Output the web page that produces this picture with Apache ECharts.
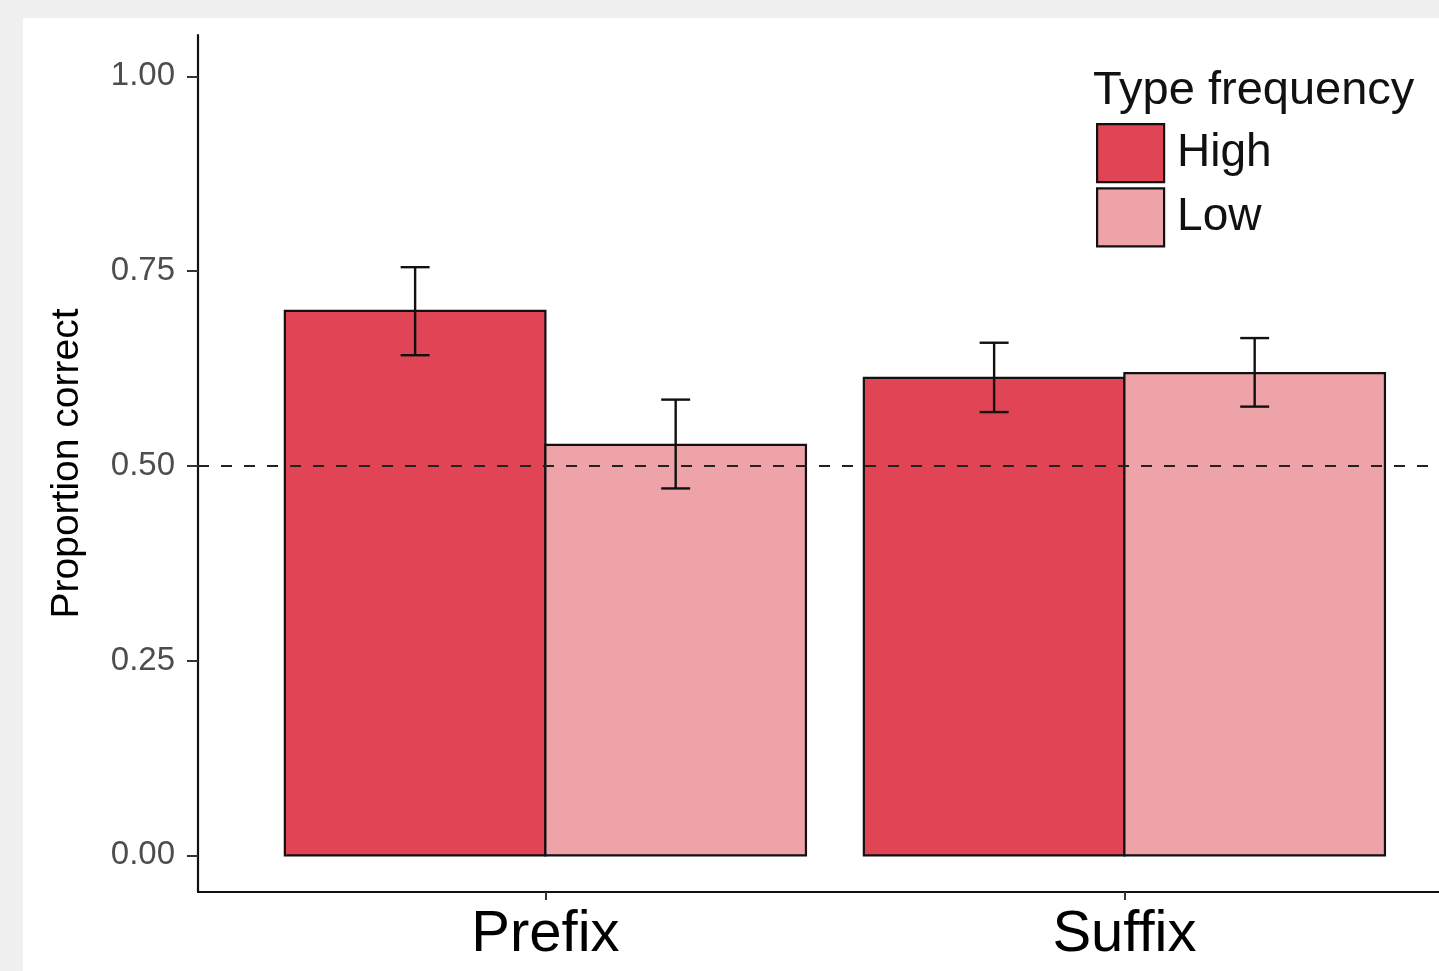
<!DOCTYPE html>
<html>
<head>
<meta charset="utf-8">
<script src="https://cdn.jsdelivr.net/npm/echarts@6/dist/echarts.min.js"></script>
<style>
  html, body { margin: 0; padding: 0; background: #f0f0f0; overflow: hidden; }
  #chart { position: absolute; left: 23px; top: 18px; width: 1416px; height: 953px; background: #ffffff; }
</style>
</head>
<body>
<div id="chart"></div>
<script>
const categories = ['Prefix', 'Suffix'];
const groups = ['High', 'Low'];
const highMean = [0.699, 0.613];
const highLower = [0.642, 0.569];
const highUpper = [0.755, 0.658];
const lowMean = [0.527, 0.619];
const lowLower = [0.471, 0.576];
const lowUpper = [0.585, 0.664];
const yTicks = [0, 0.25, 0.5, 0.75, 1];
const chanceLevel = 0.5;

const colors = { High: '#e04455', Low: '#eea3a9' };
const dodge = 0.9;
const barW = dodge / 2;
const capW = 0.05;

function barSeries(name, means, offset) {
  return {
    name: name,
    type: 'custom',
    z: 2,
    itemStyle: { color: colors[name], borderColor: '#000', borderWidth: 2 },
    data: means.map((m, i) => [i + 1, m]),
    renderItem: function (params, api) {
      const x0 = api.value(0) + offset - barW / 2;
      const p0 = api.coord([x0, api.value(1)]);
      const p1 = api.coord([x0 + barW, 0]);
      return {
        type: 'rect',
        shape: { x: p0[0], y: p0[1], width: p1[0] - p0[0], height: p1[1] - p0[1] },
        style: { fill: api.visual('color'), stroke: '#111', lineWidth: 2.2 }
      };
    }
  };
}

function errSeries(lower, upper, offset) {
  return {
    type: 'custom',
    z: 5,
    silent: true,
    data: lower.map((l, i) => [i + 1, l, upper[i]]),
    renderItem: function (params, api) {
      const xc = api.value(0) + offset;
      const lo = api.coord([xc, api.value(1)]);
      const hi = api.coord([xc, api.value(2)]);
      const l1 = api.coord([xc - capW / 2, api.value(1)]);
      const r1 = api.coord([xc + capW / 2, api.value(1)]);
      const l2 = api.coord([xc - capW / 2, api.value(2)]);
      const r2 = api.coord([xc + capW / 2, api.value(2)]);
      const st = { stroke: '#111', lineWidth: 2.4 };
      return {
        type: 'group',
        children: [
          { type: 'line', shape: { x1: lo[0], y1: lo[1], x2: hi[0], y2: hi[1] }, style: st },
          { type: 'line', shape: { x1: l1[0], y1: l1[1], x2: r1[0], y2: r1[1] }, style: st },
          { type: 'line', shape: { x1: l2[0], y1: l2[1], x2: r2[0], y2: r2[1] }, style: st }
        ]
      };
    }
  };
}

const chart = echarts.init(document.getElementById('chart'), null, { renderer: 'canvas' });

const hi = barSeries('High', highMean, -barW / 2);
hi.markLine = {
  silent: true,
  symbol: ['none', 'none'],
  label: { show: false },
  z: 4,
  lineStyle: { color: '#222', width: 2.2, type: [11, 12] },
  data: [{ yAxis: chanceLevel }]
};

chart.setOption({
  animation: false,
  backgroundColor: '#ffffff',
  textStyle: { fontFamily: 'Liberation Sans, Arial, sans-serif' },
  title: {
    text: 'Type frequency',
    left: 1070,
    top: 50,
    padding: 0,
    textStyle: { fontSize: 47, fontWeight: 'normal', color: '#111' }
  },
  legend: {
    orient: 'vertical',
    left: 1073,
    top: 105,
    padding: 0,
    itemWidth: 67,
    itemHeight: 58,
    itemGap: 4,
    icon: 'rect',
    selectedMode: false,
    textStyle: { fontSize: 46, color: '#111', padding: [0, 0, 0, 8], lineHeight: 58 },
    data: groups.map(g => ({ name: g, itemStyle: { color: colors[g], borderColor: '#111', borderWidth: 2.2 } }))
  },
  grid: { left: 175, top: 17, width: 1241, height: 857, containLabel: false },
  xAxis: {
    type: 'value',
    min: 0.4,
    max: 0.4 + 1241 / 579,
    splitLine: { show: false },
    axisLine: { onZero: false, lineStyle: { color: '#111', width: 2.2 } },
    axisTick: { customValues: [1, 2], length: 8, lineStyle: { color: '#333', width: 2 } },
    axisLabel: {
      customValues: [1, 2],
      formatter: v => categories[Math.round(v) - 1],
      fontSize: 58,
      color: '#000',
      margin: 14
    }
  },
  yAxis: {
    type: 'value',
    min: -0.047,
    max: 1.053,
    name: 'Proportion correct',
    nameLocation: 'middle',
    nameRotate: 90,
    nameGap: 111,
    nameTextStyle: { fontSize: 39, color: '#000' },
    splitLine: { show: false },
    axisLine: { onZero: false, lineStyle: { color: '#111', width: 2.2 } },
    axisTick: { customValues: yTicks, length: 11, lineStyle: { color: '#333', width: 2 } },
    axisLabel: {
      customValues: yTicks,
      formatter: v => v.toFixed(2),
      fontSize: 33,
      color: '#4d4d4d',
      margin: 23
    }
  },
  series: [
    hi,
    barSeries('Low', lowMean, barW / 2),
    errSeries(highLower, highUpper, -barW / 2),
    errSeries(lowLower, lowUpper, barW / 2)
  ]
});
</script>
</body>
</html>
